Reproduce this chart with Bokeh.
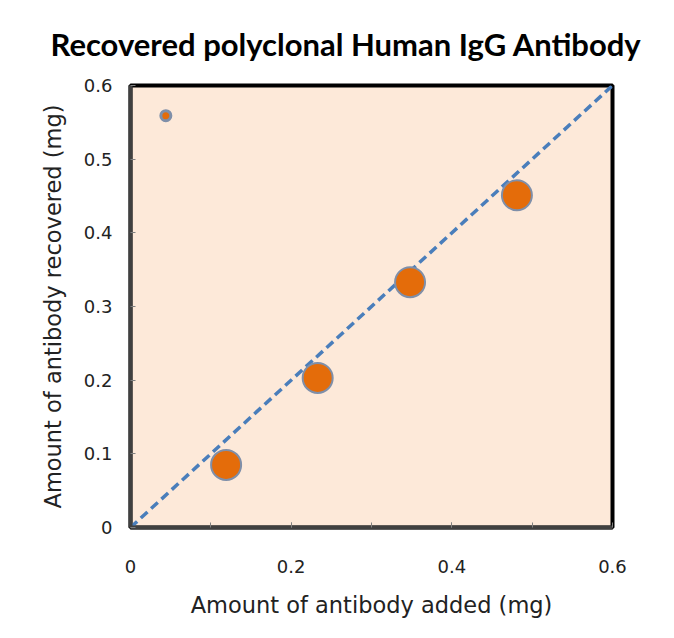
from bokeh.plotting import figure
from bokeh.models import FixedTicker, Title
from bokeh.embed import file_html
from bokeh.resources import INLINE

# data
added = [0.119, 0.233, 0.348, 0.481]
recovered = [0.085, 0.203, 0.333, 0.451]
extra_x = [0.044]
extra_y = [0.559]
ideal_x = [0.0, 0.6]
ideal_y = [0.0, 0.6]
x_ticks = [0, 0.2, 0.4, 0.6]
y_ticks = [0, 0.1, 0.2, 0.3, 0.4, 0.5, 0.6]
minor = [0.1, 0.2, 0.3, 0.4, 0.5]
title_text = "Recovered polyclonal Human IgG Antibody"

TFONT = "Lato"
FONT = "DejaVu Sans"

p = figure(width=658, height=620, output_backend="svg", toolbar_location=None,
           x_range=(0, 0.6), y_range=(0, 0.6),
           min_border_left=130, min_border_right=46, min_border_top=83, min_border_bottom=93)
p.background_fill_color = "#fde9d9"
p.border_fill_color = "white"
p.outline_line_color = "black"
p.outline_line_width = 4
p.xgrid.visible = False
p.ygrid.visible = False

p.title = None
t = Title(text=title_text, align="left", offset=-80,
          text_font=TFONT, text_font_size="31px", text_font_style="bold",
          text_color="black", standoff=45)
p.add_layout(t, "above")

for ax in (p.xaxis[0], p.yaxis[0]):
    ax.axis_line_color = "#404040"
    ax.axis_line_width = 4
    ax.major_tick_in = 5
    ax.major_tick_out = 0
    ax.minor_tick_in = 5
    ax.minor_tick_out = 0
    ax.major_tick_line_color = "#808080"
    ax.minor_tick_line_color = "#808080"
    ax.major_label_text_font = FONT
    ax.major_label_text_font_size = "18px"
    ax.major_label_text_color = "#222222"
    ax.axis_label_text_font = FONT
    ax.axis_label_text_font_style = "normal"
    ax.axis_label_text_color = "#222222"
    ax.axis_label_text_font_size = "22.5px"

p.xaxis[0].ticker = FixedTicker(ticks=x_ticks, minor_ticks=minor)
p.yaxis[0].ticker = FixedTicker(ticks=y_ticks, minor_ticks=[])
p.xaxis[0].major_label_overrides = {0: "0", 0.2: "0.2", 0.4: "0.4", 0.6: "0.6"}
p.yaxis[0].major_label_overrides = {0: "0"}
p.xaxis[0].major_label_standoff = 32
p.yaxis[0].major_label_standoff = 18
p.xaxis[0].axis_label = "Amount of antibody added (mg)"
p.yaxis[0].axis_label = "Amount of antibody recovered (mg)"
p.xaxis[0].axis_label_standoff = 16
p.yaxis[0].axis_label_standoff = 15

p.line(ideal_x, ideal_y, line_color="#4a7ebb", line_width=3.5, line_dash="9 5")
p.scatter(added, recovered, size=30, fill_color="#e46c0a", line_color="#7f8fa9", line_width=2)
p.scatter(extra_x, extra_y, size=10, fill_color="#e46c0a", line_color="#7f8fa9", line_width=3)

open("out.html", "w").write(file_html(p, INLINE))
